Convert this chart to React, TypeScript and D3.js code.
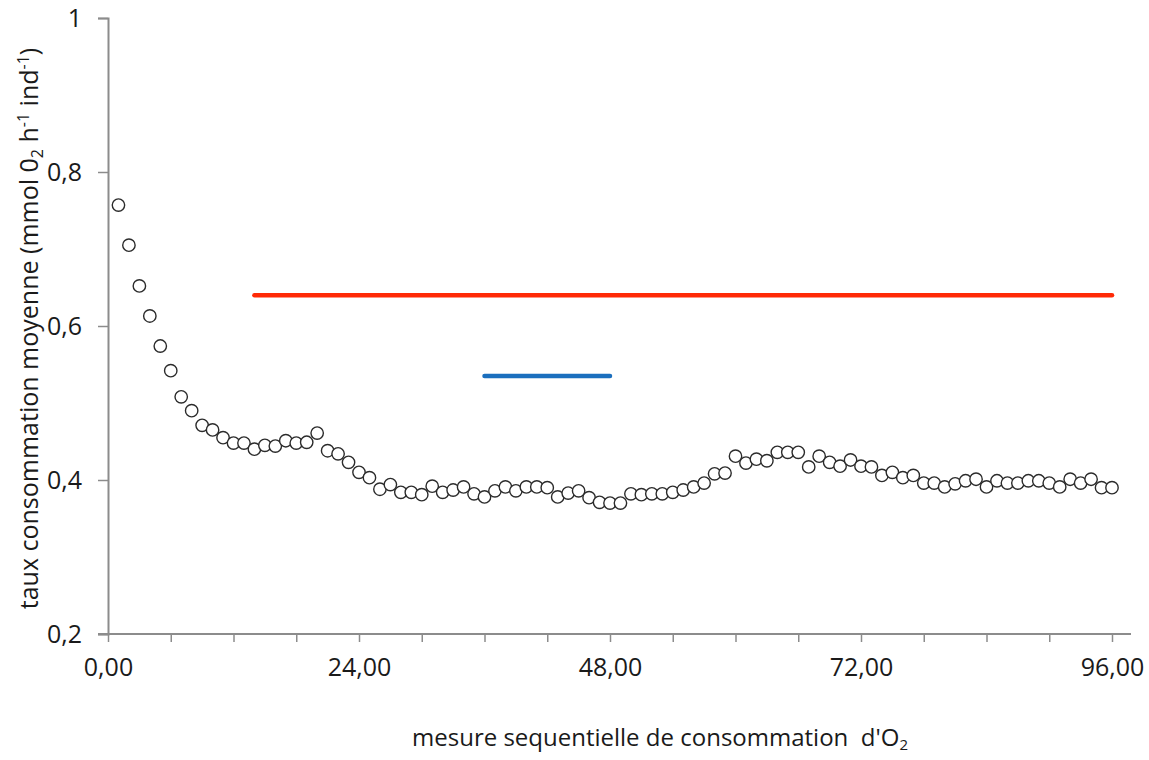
import { useEffect, useRef } from 'react';
import * as d3 from 'd3';

// mean O2 consumption for each sequential measure (1..96)
const rates = [
  0.757, 0.705, 0.652, 0.613, 0.574, 0.542, 0.508, 0.49, 0.471, 0.465,
  0.455, 0.448, 0.448, 0.44, 0.445, 0.444, 0.451, 0.448, 0.449, 0.461,
  0.438, 0.434, 0.423, 0.41, 0.403, 0.388, 0.394, 0.384, 0.384, 0.381,
  0.392, 0.384, 0.387, 0.391, 0.382, 0.378, 0.386, 0.391, 0.386, 0.391,
  0.391, 0.39, 0.378, 0.383, 0.386, 0.377, 0.371, 0.37, 0.37, 0.382,
  0.381, 0.382, 0.382, 0.384, 0.387, 0.391, 0.396, 0.408, 0.409, 0.431,
  0.422, 0.427, 0.425, 0.436, 0.436, 0.436, 0.417, 0.431, 0.423, 0.418,
  0.426, 0.418, 0.417, 0.406, 0.41, 0.403, 0.406, 0.396, 0.396, 0.391,
  0.395, 0.399, 0.401, 0.391, 0.399, 0.396, 0.396, 0.399, 0.399, 0.396,
  0.391, 0.401, 0.396, 0.401, 0.39, 0.39,
];
const measures = rates.map((_, i) => i + 1);

// horizontal reference segments
const meanAll = { start: 14, end: 96, value: 0.64 };
const meanSub = { start: 36, end: 48, value: 0.535 };

const xTicks = [0, 6, 12, 18, 24, 30, 36, 42, 48, 54, 60, 66, 72, 78, 84, 90, 96];
const xTickLabels = [0, 24, 48, 72, 96];
const yTicks = [0.2, 0.4, 0.6, 0.8, 1];

const FONT = '"Open Sans", sans-serif';

export default function App() {
  const svgRef = useRef<SVGSVGElement>(null);

  useEffect(() => {
    const svg = d3.select(svgRef.current);
    svg.selectAll('*').remove();

    const x = d3.scaleLinear().domain([0, 96]).range([108, 1112]);
    const y = d3.scaleLinear().domain([0.2, 1]).range([634, 18]);
    const axisColor = '#8c8c8c';

    // y axis
    const yAxis = svg.append('g')
      .attr('transform', `translate(${x(0)},0)`)
      .call(d3.axisLeft(y).tickValues(yTicks).tickSize(10).tickPadding(16)
        .tickFormat(d => (+d === 1 ? '1' : d3.format('.1f')(+d).replace('.', ','))));
    yAxis.select('.domain').attr('stroke', axisColor).attr('stroke-width', 2);
    yAxis.selectAll('.tick line').attr('stroke', axisColor).attr('stroke-width', 1.5);
    yAxis.selectAll('text')
      .attr('font-family', FONT).attr('font-size', 25).attr('fill', '#1a1a1a')
      .attr('dy', '0.35em');

    // x axis
    const xAxis = svg.append('g')
      .attr('transform', `translate(0,${y(0.2)})`)
      .call(d3.axisBottom(x).tickValues(xTicks).tickSize(8).tickPadding(16)
        .tickFormat(d => (xTickLabels.includes(+d) ? d3.format('.2f')(+d).replace('.', ',') : '')));
    xAxis.select('.domain').attr('d', `M${x(0) - 10},0H1131`)
      .attr('stroke', axisColor).attr('stroke-width', 2);
    xAxis.selectAll('.tick line').attr('stroke', axisColor).attr('stroke-width', 1.5);
    xAxis.selectAll('text')
      .attr('font-family', FONT).attr('font-size', 25).attr('fill', '#1a1a1a');

    // reference lines
    [{ seg: meanAll, color: '#ff2a06' }, { seg: meanSub, color: '#1b6fbe' }].forEach(({ seg, color }) => {
      svg.append('line')
        .attr('x1', x(seg.start)).attr('x2', x(seg.end))
        .attr('y1', y(seg.value)).attr('y2', y(seg.value))
        .attr('stroke', color).attr('stroke-width', 4.5)
        .attr('stroke-linecap', 'round');
    });

    // points
    svg.append('g')
      .selectAll('circle')
      .data(rates)
      .join('circle')
      .attr('cx', (d, i) => x(measures[i]))
      .attr('cy', d => y(d))
      .attr('r', 6.2)
      .attr('fill', '#fff')
      .attr('stroke', '#2b2b2b')
      .attr('stroke-width', 1.4);

    // y axis title
    const yTitle = svg.append('text')
      .attr('transform', `translate(38,${(15 + 642) / 2}) rotate(-90)`)
      .attr('text-anchor', 'middle')
      .attr('font-family', FONT)
      .attr('font-size', 25)
      .attr('fill', '#1a1a1a')
      .style('white-space', 'pre');
    yTitle.append('tspan').text('taux consommation moyenne (mmol 0');
    yTitle.append('tspan').attr('font-size', 16).attr('baseline-shift', '-5').text('2');
    yTitle.append('tspan').text(' h');
    yTitle.append('tspan').attr('font-size', 16).attr('baseline-shift', '9').text('-1');
    yTitle.append('tspan').text(' ind');
    yTitle.append('tspan').attr('font-size', 16).attr('baseline-shift', '9').text('-1');
    yTitle.append('tspan').text(')');

    // x axis title
    const xTitle = svg.append('text')
      .attr('x', 660)
      .attr('y', 746)
      .attr('text-anchor', 'middle')
      .attr('font-family', FONT)
      .attr('font-size', 24)
      .attr('fill', '#1a1a1a')
      .style('white-space', 'pre');
    xTitle.append('tspan').text("mesure sequentielle de consommation  d'O");
    xTitle.append('tspan').attr('font-size', 15).attr('baseline-shift', '-4').text('2');
  }, []);

  return (
    <div style={{ position: 'absolute', left: 0, top: 0, width: 1149, height: 760, background: '#fff' }}>
      <svg ref={svgRef} width={1149} height={760} style={{ display: 'block' }} />
    </div>
  );
}
